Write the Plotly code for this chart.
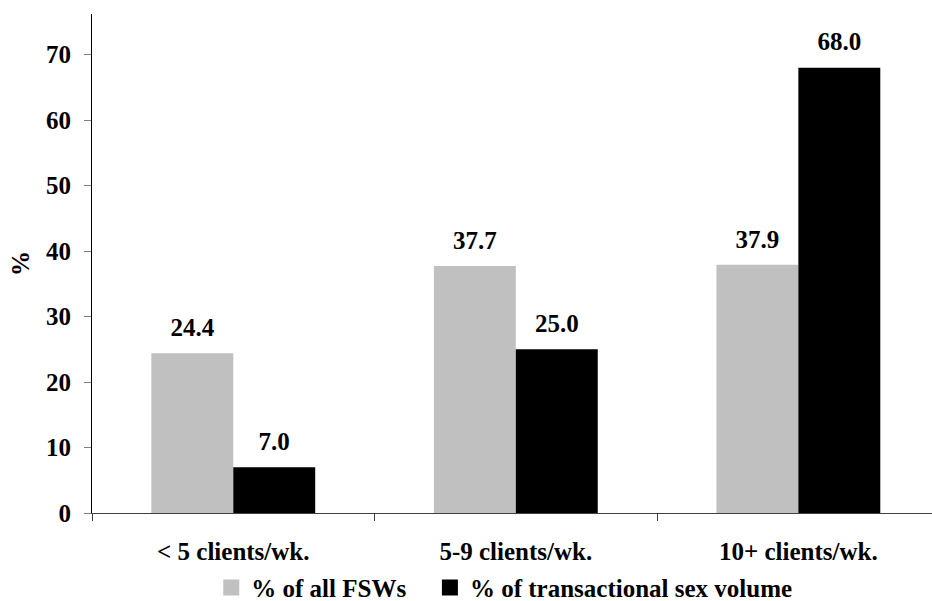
import plotly.graph_objects as go

categories = ["< 5 clients/wk.", "5-9 clients/wk.", "10+ clients/wk."]
pct_fsw = [24.4, 37.7, 37.9]
pct_volume = [7.0, 25.0, 68.0]
series_names = ["% of all FSWs", "% of transactional sex volume"]
series_colors = ["#c0c0c0", "#000000"]
y_ticks = [0, 10, 20, 30, 40, 50, 60, 70]

FONT = "Liberation Serif"
FS = 25
NBSP = "\u00a0"

fig = go.Figure()
for i, (vals, name, col) in enumerate(zip([pct_fsw, pct_volume], series_names, series_colors)):
    fig.add_trace(go.Bar(
        x=categories, y=vals, name=name, offsetgroup=str(i),
        marker=dict(color=col, line=dict(width=0)),
        showlegend=False,
    ))
for i, (vals, name, col) in enumerate(zip([pct_fsw, pct_volume], series_names, series_colors)):
    fig.add_trace(go.Scatter(
        x=categories, y=vals, name=name + " labels", offsetgroup=str(i),
        mode="markers+text", marker=dict(size=16, opacity=0, color=col),
        text=[f"{v:.1f}" for v in vals], textposition="top center",
        textfont=dict(family=FONT, size=FS, color="black", weight="bold"),
        showlegend=False, cliponaxis=False, hoverinfo="skip",
    ))
# legend entries (extra spacing after the first label)
legend_labels = [series_names[0] + NBSP * 3, series_names[1]]
for name, col in zip(legend_labels, series_colors):
    fig.add_trace(go.Scatter(
        x=[None], y=[None], name=name, mode="markers",
        marker=dict(symbol="square", size=17, color=col, line=dict(width=0)),
        showlegend=True,
    ))

fig.update_layout(
    width=932, height=601,
    margin=dict(l=92, r=0, t=14, b=88, autoexpand=False),
    paper_bgcolor="white", plot_bgcolor="white",
    barmode="group", bargap=0.42, bargroupgap=0,
    scattermode="group", scattergap=0.42,
    font=dict(family=FONT, size=FS, color="black", weight="bold"),
    showlegend=True,
    legend=dict(orientation="h", x=0.142, xanchor="left", y=-0.15, yanchor="middle",
                font=dict(family=FONT, size=FS, color="black", weight="bold"),
                itemwidth=30, tracegroupgap=0, bgcolor="rgba(0,0,0,0)"),
)
fig.update_xaxes(
    type="category", range=[-0.5, 2.473], automargin=False,
    showline=True, linecolor="#404040", linewidth=1,
    ticks="outside", tickson="boundaries", ticklen=7, tickcolor="#404040", tickwidth=1,
    showgrid=False, zeroline=False,
    ticklabelstandoff=16,
    tickfont=dict(family=FONT, size=FS, color="black", weight="bold"),
)
fig.update_yaxes(
    range=[0, 76.2], tickvals=y_ticks, automargin=False,
    showline=True, linecolor="#000000", linewidth=1,
    ticks="outside", ticklen=7, tickcolor="#808080", tickwidth=1,
    showgrid=False, zeroline=False,
    ticklabelstandoff=8,
    tickfont=dict(family=FONT, size=FS, color="black", weight="bold"),
    title=dict(text="%", font=dict(family=FONT, size=FS, color="black", weight="bold"), standoff=9),
)

fig.write_html("out.html")
